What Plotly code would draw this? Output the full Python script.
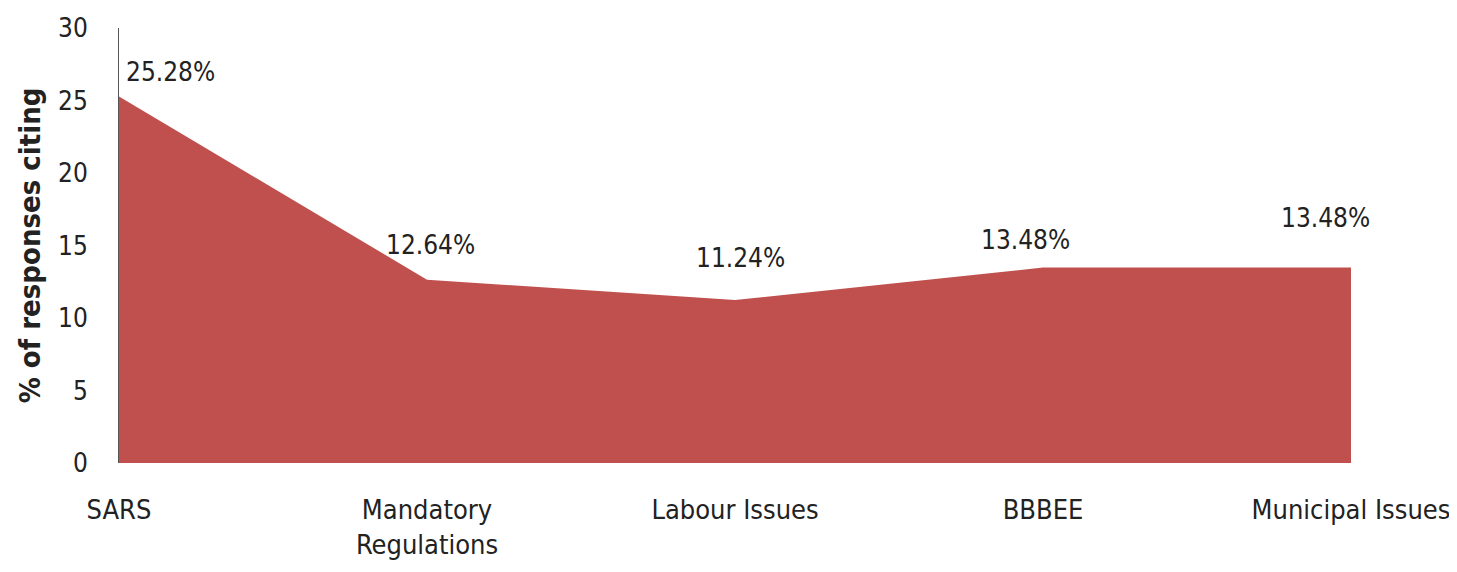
import plotly.graph_objects as go

categories = ["SARS", "Mandatory<br>Regulations", "Labour Issues", "BBBEE", "Municipal Issues"]
values = [25.28, 12.64, 11.24, 13.48, 13.48]
value_labels = ["25.28%", "12.64%", "11.24%", "13.48%", "13.48%"]
y_ticks = [0, 5, 10, 15, 20, 25, 30]

idx = list(range(len(categories)))
font_family = "Liberation Sans Narrow, DejaVu Sans Condensed, Open Sans"

fig = go.Figure()
fig.add_trace(go.Scatter(
    x=idx, y=values, mode="lines", fill="tozeroy",
    line=dict(color="#C0504D", width=0), fillcolor="#C0504D",
    hoverinfo="skip", showlegend=False,
))

# label offsets (pixels) to mimic the original placement
xshifts = [51, 3, 5, -18, -26]
yshifts = [24, 35, 42, 28, 50]
for i, (v, t) in enumerate(zip(values, value_labels)):
    fig.add_annotation(x=idx[i], y=v, text=t, showarrow=False,
                       xshift=xshifts[i], yshift=yshifts[i],
                       font=dict(family=font_family, size=26, color="#222222"))

fig.update_layout(
    width=1449, height=564,
    margin=dict(l=111, r=106, t=20, b=109, autoexpand=False),
    paper_bgcolor="white", plot_bgcolor="white",
    font=dict(family=font_family, size=26, color="#222222"),
    xaxis=dict(range=[0, 4], tickvals=idx, ticktext=categories,
               showgrid=False, zeroline=False, showline=False,
               ticks="", ticklabelstandoff=28, tickfont=dict(size=27)),
    yaxis=dict(range=[0, 30], tickvals=y_ticks, showgrid=False,
               zeroline=False, showline=True, linecolor="#555555", linewidth=1,
               ticks="", ticklabelstandoff=25, tickfont=dict(size=26),
               title=dict(text="<b>% of responses citing</b>",
                          font=dict(size=29, color="#222222"), standoff=8)),
)

fig.write_html("out.html")
